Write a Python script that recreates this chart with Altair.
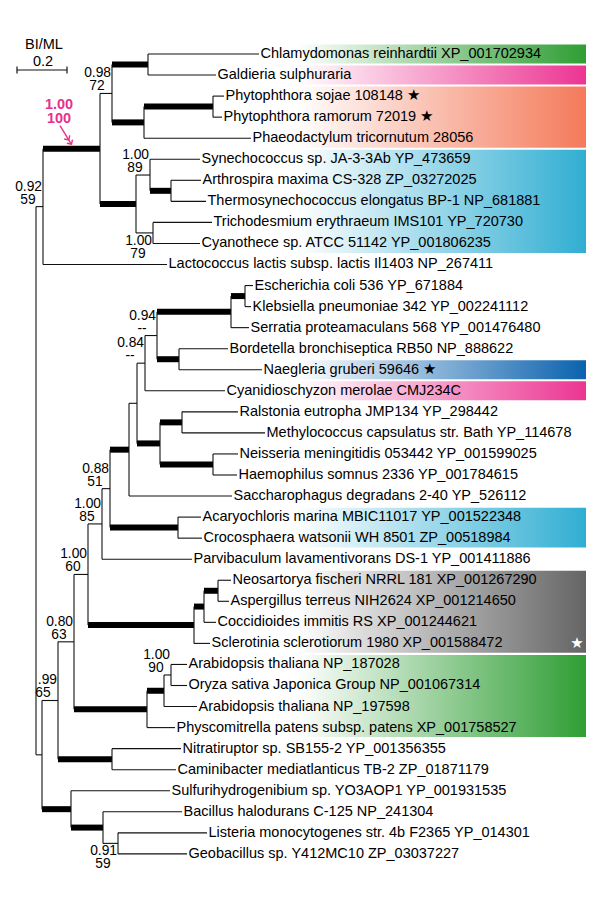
import altair as alt
import pandas as pd

# ---------------- data ----------------
leaf_names = [
    "Chlamydomonas reinhardtii XP_001702934",
    "Galdieria sulphuraria",
    "Phytophthora sojae 108148 \u2605",
    "Phytophthora ramorum 72019 \u2605",
    "Phaeodactylum tricornutum 28056",
    "Synechococcus sp. JA-3-3Ab YP_473659",
    "Arthrospira maxima CS-328 ZP_03272025",
    "Thermosynechococcus elongatus BP-1 NP_681881",
    "Trichodesmium erythraeum IMS101 YP_720730",
    "Cyanothece sp. ATCC 51142 YP_001806235",
    "Lactococcus lactis subsp. lactis Il1403 NP_267411",
    "Escherichia coli 536 YP_671884",
    "Klebsiella pneumoniae 342 YP_002241112",
    "Serratia proteamaculans 568 YP_001476480",
    "Bordetella bronchiseptica RB50 NP_888622",
    "Naegleria gruberi 59646 \u2605",
    "Cyanidioschyzon merolae CMJ234C",
    "Ralstonia eutropha JMP134 YP_298442",
    "Methylococcus capsulatus str. Bath YP_114678",
    "Neisseria meningitidis 053442 YP_001599025",
    "Haemophilus somnus 2336 YP_001784615",
    "Saccharophagus degradans 2-40 YP_526112",
    "Acaryochloris marina MBIC11017 YP_001522348",
    "Crocosphaera watsonii WH 8501 ZP_00518984",
    "Parvibaculum lavamentivorans DS-1 YP_001411886",
    "Neosartorya fischeri NRRL 181 XP_001267290",
    "Aspergillus terreus NIH2624 XP_001214650",
    "Coccidioides immitis RS XP_001244621",
    "Sclerotinia sclerotiorum 1980 XP_001588472",
    "Arabidopsis thaliana NP_187028",
    "Oryza sativa Japonica Group NP_001067314",
    "Arabidopsis thaliana NP_197598",
    "Physcomitrella patens subsp. patens XP_001758527",
    "Nitratiruptor sp. SB155-2 YP_001356355",
    "Caminibacter mediatlanticus TB-2 ZP_01871179",
    "Sulfurihydrogenibium sp. YO3AOP1 YP_001931535",
    "Bacillus halodurans C-125 NP_241304",
    "Listeria monocytogenes str. 4b F2365 YP_014301",
    "Geobacillus sp. Y412MC10 ZP_03037227",
]
leaf_parent = ["D", "D", "F", "F", "E", "H", "I", "I", "J", "J", "A",
               "V", "V", "U", "W", "W", "S", "Y", "Y", "Z", "Z", "Q",
               "AA", "AA", "O", "AD", "AD", "AC", "AB", "AG", "AG", "AF",
               "AE", "AH", "AH", "AI", "AJ", "AK", "AK"]
leaf_len = [0.444, 0.272, 0.044, 0.036, 0.428, 0.200, 0.120, 0.140, 0.236,
            0.188, 0.496, 0.032, 0.024, 0.072, 0.196, 0.332, 0.320, 0.224,
            0.332, 0.100, 0.096, 0.412, 0.092, 0.096, 0.360, 0.052, 0.044,
            0.048, 0.064, 0.064, 0.064, 0.132, 0.112, 0.276, 0.256, 0.396,
            0.316, 0.356, 0.276]

node_ids = ["root", "A", "B", "C", "D", "E", "F", "G", "H", "I", "J",
            "K", "L", "M", "N", "O", "P", "Q", "R", "S", "T", "U", "V", "W",
            "X", "Y", "Z", "AA", "AB", "AC", "AD", "AE", "AF", "AG", "AH",
            "AI", "AJ", "AK"]
node_parent = ["", "root", "A", "B", "C", "C", "E", "B", "G", "H", "G",
               "root", "K", "L", "M", "N", "O", "P", "Q", "R", "S", "T", "U", "T",
               "R", "X", "X", "P", "N", "AB", "AC", "M", "AE", "AF", "L",
               "K", "AI", "AJ"]
node_len = [0.0, 0.028, 0.228, 0.048, 0.144, 0.128, 0.276, 0.144, 0.056,
            0.084, 0.068, 0.024, 0.064, 0.064, 0.056, 0.056, 0.032, 0.076,
            0.032, 0.032, 0.048, 0.296, 0.056, 0.088, 0.092, 0.088, 0.212,
            0.272, 0.424, 0.040, 0.056, 0.292, 0.068, 0.028, 0.216, 0.116,
            0.128, 0.060]
thick_nodes = ["B", "D", "E", "F", "G", "I", "Q", "U", "V", "W", "X", "Y",
               "Z", "AA", "AB", "AC", "AD", "AE", "AF", "AH", "AI", "AJ"]

support_node = ["A", "C", "H", "J", "L", "M", "N", "O", "P", "S", "T", "AG", "AK"]
support_top = ["0.92", "0.98", "1.00", "1.00", ".99", "0.80", "1.00", "1.00",
               "0.88", "0.84", "0.94", "1.00", "0.91"]
support_bottom = ["59", "72", "89", "79", "65", "63", "60", "85", "51", "--",
                  "--", "90", "59"]
support_below = ["J", "AK"]

highlight_node = "B"
highlight_top = "1.00"
highlight_bottom = "100"

band_first = [0, 1, 2, 5, 15, 16, 22, 25, 29]
band_last = [0, 1, 4, 9, 15, 16, 23, 28, 32]
band_color = ["#2f9e34", "#ec3592", "#f47a5a", "#30aed2", "#0b62ae",
              "#ec3592", "#30aed2", "#656565", "#2f9e34"]
white_star_leaf = [28]

scale_bar_length = 0.2
scale_bar_label = "0.2"
scale_bar_title = "BI/ML"

# ---------------- layout ----------------
PX = 1 / 250.0      # tree units per pixel
PY = 1 / 21.05      # leaf rows per pixel
FONT = "Liberation Sans"
PINK = "#e8308c"

parent_of = dict(zip(node_ids, node_parent))
len_of = dict(zip(node_ids, node_len))
children = {n: [] for n in node_ids}
for n, p in zip(node_ids, node_parent):
    if p:
        children[p].append(("n", n))
for i, p in enumerate(leaf_parent):
    children[p].append(("l", i))

node_x = {}


def get_x(n):
    if n not in node_x:
        p = parent_of[n]
        node_x[n] = 0.0 if not p else get_x(p) + len_of[n]
    return node_x[n]


node_y = {}


def get_y(n):
    if n not in node_y:
        ys = [get_y(c) if k == "n" else float(c) for k, c in children[n]]
        node_y[n] = (min(ys) + max(ys)) / 2
    return node_y[n]


for n in node_ids:
    get_x(n)
    get_y(n)

hrows, vrows = [], []
for n in node_ids:
    p = parent_of[n]
    if p:
        hrows.append(dict(x0=node_x[p], x1=node_x[n], y=node_y[n],
                          thick=n in thick_nodes))
    ys = [node_y[c] if k == "n" else float(c) for k, c in children[n]]
    vrows.append(dict(x=node_x[n], y0=min(ys), y1=max(ys)))
leaf_rows = []
for i, name in enumerate(leaf_names):
    px = node_x[leaf_parent[i]]
    hrows.append(dict(x0=px, x1=px + leaf_len[i], y=float(i), thick=False))
    leaf_rows.append(dict(x=px + leaf_len[i], y=float(i), name=name))
hdf = pd.DataFrame(hrows)
vdf = pd.DataFrame(vrows)
ldf = pd.DataFrame(leaf_rows)

sup_rows = []
for n, t, b in zip(support_node, support_top, support_bottom):
    sup_rows.append(dict(x=node_x[n], xb=node_x[n] - 15 * PX, y=node_y[n],
                         top=t, bottom=b, below=n in support_below))
sdf = pd.DataFrame(sup_rows)

xs = alt.Scale(domain=[-0.112, 2.224], nice=False, zero=False)
ys = alt.Scale(domain=[-2.185, 40.665], nice=False, zero=False, reverse=True)


def X(f):
    return alt.X(f, type="quantitative", scale=xs, axis=None)


def Y(f):
    return alt.Y(f, type="quantitative", scale=ys, axis=None)


layers = []

# coloured bands
BAND_X0 = (215 - 36) * PX
BAND_X1 = (586 - 36) * PX
for f, l, c in zip(band_first, band_last, band_color):
    bdf = pd.DataFrame([dict(x0=BAND_X0, x1=BAND_X1, y0=f - 0.45, y1=l + 0.45)])
    grad = {"gradient": "linear", "x1": 0, "y1": 0, "x2": 1, "y2": 0,
            "stops": [{"offset": 0, "color": "#ffffff"},
                      {"offset": 0.22, "color": "#ffffff"},
                      {"offset": 1, "color": c}]}
    layers.append(alt.Chart(bdf).mark_rect(fill=grad, stroke=None).encode(
        x=X("x0"), x2="x1", y=Y("y0"), y2="y1"))

# branches
layers.append(alt.Chart(hdf[~hdf.thick]).mark_rule(
    color="#111111", strokeWidth=1.1).encode(x=X("x0"), x2="x1", y=Y("y")))
layers.append(alt.Chart(hdf[hdf.thick]).mark_rule(
    color="#000000", strokeWidth=6, strokeCap="butt").encode(
    x=X("x0"), x2="x1", y=Y("y")))
layers.append(alt.Chart(vdf).mark_rule(
    color="#111111", strokeWidth=1.1).encode(x=X("x"), y=Y("y0"), y2="y1"))

# leaf labels
layers.append(alt.Chart(ldf).mark_text(
    align="left", baseline="middle", dx=1.5, font=FONT, fontSize=14.5,
    color="#000000").encode(x=X("x"), y=Y("y"), text="name:N"))

# white star
wdf = pd.DataFrame([dict(x=BAND_X1 - 9 * PX, y=float(i), s="\u2605")
                    for i in white_star_leaf])
layers.append(alt.Chart(wdf).mark_text(
    align="center", baseline="middle", fontSize=15, color="#ffffff",
    font="DejaVu Sans").encode(x=X("x"), y=Y("y"), text="s:N"))

# support values
above = sdf[~sdf.below]
below = sdf[sdf.below]
for d, o1, o2 in [(above, -20, -7), (below, 8, 21)]:
    layers.append(alt.Chart(d).mark_text(
        align="right", baseline="middle", dx=-1, dy=o1, font=FONT,
        fontSize=13.8, color="#000000").encode(x=X("x"), y=Y("y"), text="top:N"))
    layers.append(alt.Chart(d).mark_text(
        align="center", baseline="middle", dy=o2, font=FONT,
        fontSize=13.8, color="#000000").encode(x=X("xb"), y=Y("y"), text="bottom:N"))

# highlighted node (pink)
hx = node_x[parent_of[highlight_node]]
hy = node_y[highlight_node]
pdf = pd.DataFrame([
    dict(x=hx + 16 * PX, y=hy - 44 * PY, t=highlight_top),
    dict(x=hx + 16 * PX, y=hy - 30 * PY, t=highlight_bottom),
])
layers.append(alt.Chart(pdf).mark_text(
    align="center", baseline="middle", font=FONT, fontSize=14.5,
    fontWeight="bold", color=PINK).encode(x=X("x"), y=Y("y"), text="t:N"))
adf = pd.DataFrame([dict(x0=hx + 17 * PX, y0=hy - 23 * PY,
                         x1=hx + 28 * PX, y1=hy - 5 * PY)])
layers.append(alt.Chart(adf).mark_rule(color=PINK, strokeWidth=1.4).encode(
    x=X("x0"), x2="x1", y=Y("y0"), y2="y1"))
cdf = pd.DataFrame([dict(x=hx + 28.5 * PX, y=hy - 4.5 * PY),
                    dict(x=hx + 25.8 * PX, y=hy - 8.7 * PY)])
layers.append(alt.Chart(cdf).mark_point(
    shape="M -1 -1 L 0 0 L -1 1", filled=False, size=45, angle=57,
    color=PINK, strokeWidth=1.4, opacity=1).encode(x=X("x"), y=Y("y")))

# scale bar
SB_X0 = (17 - 36) * PX
SB_Y = (70 - 54) * PY
sbdf = pd.DataFrame([dict(x0=SB_X0, x1=SB_X0 + scale_bar_length, y=SB_Y)])
layers.append(alt.Chart(sbdf).mark_rule(color="#111111", strokeWidth=1.2).encode(
    x=X("x0"), x2="x1", y=Y("y")))
stdf = pd.DataFrame([dict(x=SB_X0, y0=SB_Y - 3.5 * PY, y1=SB_Y + 3.5 * PY),
                     dict(x=SB_X0 + scale_bar_length, y0=SB_Y - 3.5 * PY,
                          y1=SB_Y + 3.5 * PY)])
layers.append(alt.Chart(stdf).mark_rule(color="#111111", strokeWidth=1.2).encode(
    x=X("x"), y=Y("y0"), y2="y1"))
sltdf = pd.DataFrame([
    dict(x=SB_X0 + scale_bar_length / 2 + 1 * PX, y=SB_Y - 8 * PY, t=scale_bar_label),
    dict(x=SB_X0 + scale_bar_length / 2 + 2 * PX, y=SB_Y - 25 * PY, t=scale_bar_title),
])
layers.append(alt.Chart(sltdf).mark_text(
    align="center", baseline="middle", font=FONT, fontSize=14.5,
    color="#000000").encode(x=X("x"), y=Y("y"), text="t:N"))

chart = alt.layer(*layers).properties(
    width=584, height=902, padding=0,
    autosize=alt.AutoSizeParams(type="none"),
).configure_view(stroke=None)

chart.save("out.html", embed_options={"renderer": "svg", "actions": False})
